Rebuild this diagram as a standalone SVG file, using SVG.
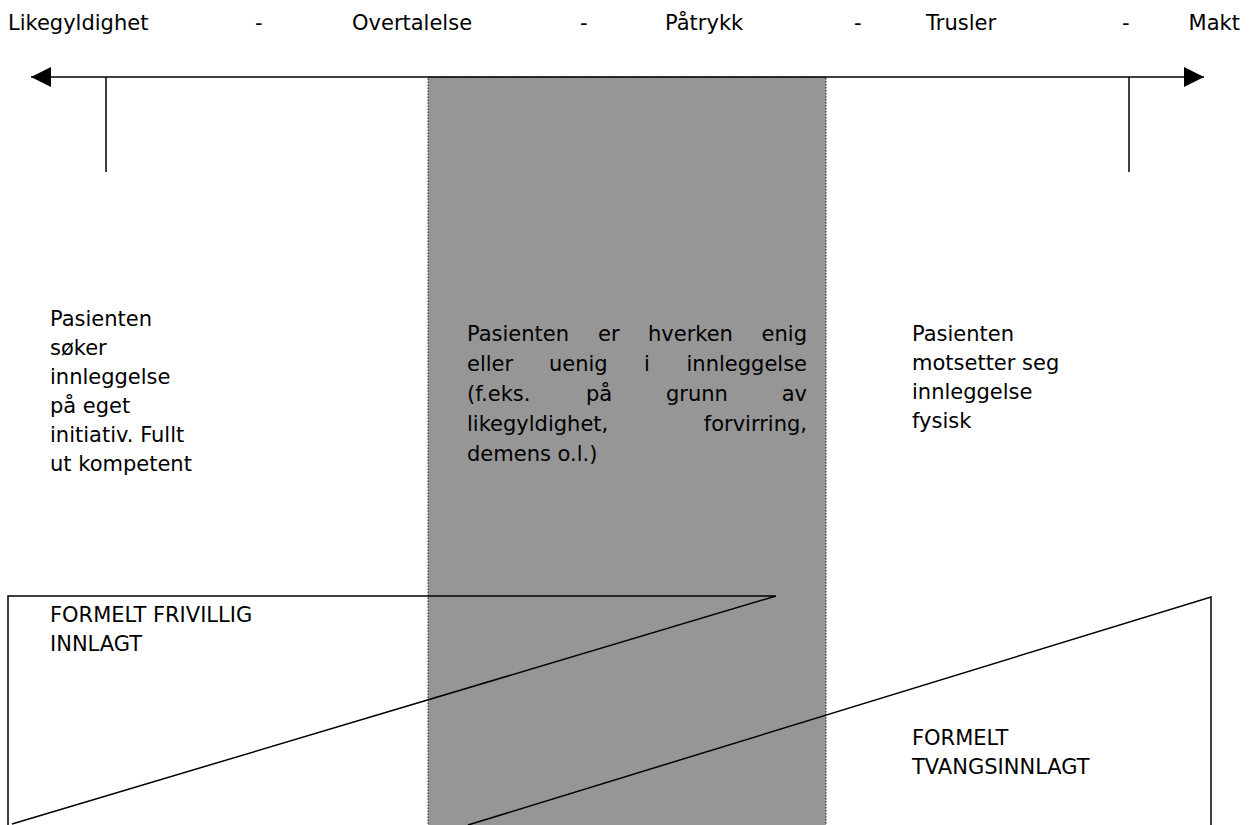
<svg xmlns="http://www.w3.org/2000/svg" width="1249" height="825" viewBox="0 0 1249 825">
<style>
text{font-family:"DejaVu Sans","Liberation Sans",sans-serif;font-size:21px;fill:#000}
.ln{stroke:#000;stroke-width:1.5;fill:none}
</style>
<defs>
<marker id="ah" viewBox="0 0 20 20" refX="20" refY="10" markerWidth="20" markerHeight="20" markerUnits="userSpaceOnUse" orient="auto-start-reverse">
<path d="M0,0 L20,10 L0,20 Z" fill="#000"/>
</marker>
</defs>
<rect width="1249" height="825" fill="#fff"/>
<g id="middle-zone">
<rect x="428" y="77" width="398" height="760" fill="#969696" stroke="#222" stroke-width="1" stroke-dasharray="1.5,1.5"/>
</g>
<g id="top-labels">
<text x="8" y="30">Likegyldighet</text>
<text x="255" y="30">-</text>
<text x="352" y="30">Overtalelse</text>
<text x="580" y="30">-</text>
<text x="665" y="30">Påtrykk</text>
<text x="854" y="30">-</text>
<text x="926" y="30">Trusler</text>
<text x="1122" y="30">-</text>
<text x="1240" y="30" text-anchor="end">Makt</text>
</g>
<g id="connectors">
<line class="ln" x1="31" y1="77" x2="1204" y2="77" marker-start="url(#ah)" marker-end="url(#ah)"/>
<line class="ln" x1="106" y1="77" x2="106" y2="172"/>
<line class="ln" x1="1129" y1="77" x2="1129" y2="172"/>
</g>
<g id="left-text">
<text x="50" y="326">Pasienten</text>
<text x="50" y="355">søker</text>
<text x="50" y="384">innleggelse</text>
<text x="50" y="413">på eget</text>
<text x="50" y="442">initiativ. Fullt</text>
<text x="50" y="471">ut kompetent</text>
</g>
<g id="middle-text">
<text y="341"><tspan x="467">Pasienten</tspan><tspan x="598">er</tspan><tspan x="648">hverken</tspan><tspan x="807" text-anchor="end">enig</tspan></text>
<text y="371"><tspan x="467">eller</tspan><tspan x="549">uenig</tspan><tspan x="644">i</tspan><tspan x="807" text-anchor="end">innleggelse</tspan></text>
<text y="401"><tspan x="467">(f.eks.</tspan><tspan x="586">på</tspan><tspan x="666">grunn</tspan><tspan x="807" text-anchor="end">av</tspan></text>
<text y="431"><tspan x="467">likegyldighet,</tspan><tspan x="807" text-anchor="end">forvirring,</tspan></text>
<text x="467" y="461">demens o.l.)</text>
</g>
<g id="right-text">
<text x="912" y="341">Pasienten</text>
<text x="912" y="370">motsetter seg</text>
<text x="912" y="399">innleggelse</text>
<text x="912" y="428">fysisk</text>
</g>
<g id="frivillig">
<polyline class="ln" points="8,830 8,596 776,596 12,824"/>
<text x="50" y="622">FORMELT FRIVILLIG</text>
<text x="50" y="651">INNLAGT</text>
</g>
<g id="tvang">
<polyline class="ln" points="468,825 1211,597 1211,830"/>
<text x="912" y="745">FORMELT</text>
<text x="912" y="774">TVANGSINNLAGT</text>
</g>
</svg>
